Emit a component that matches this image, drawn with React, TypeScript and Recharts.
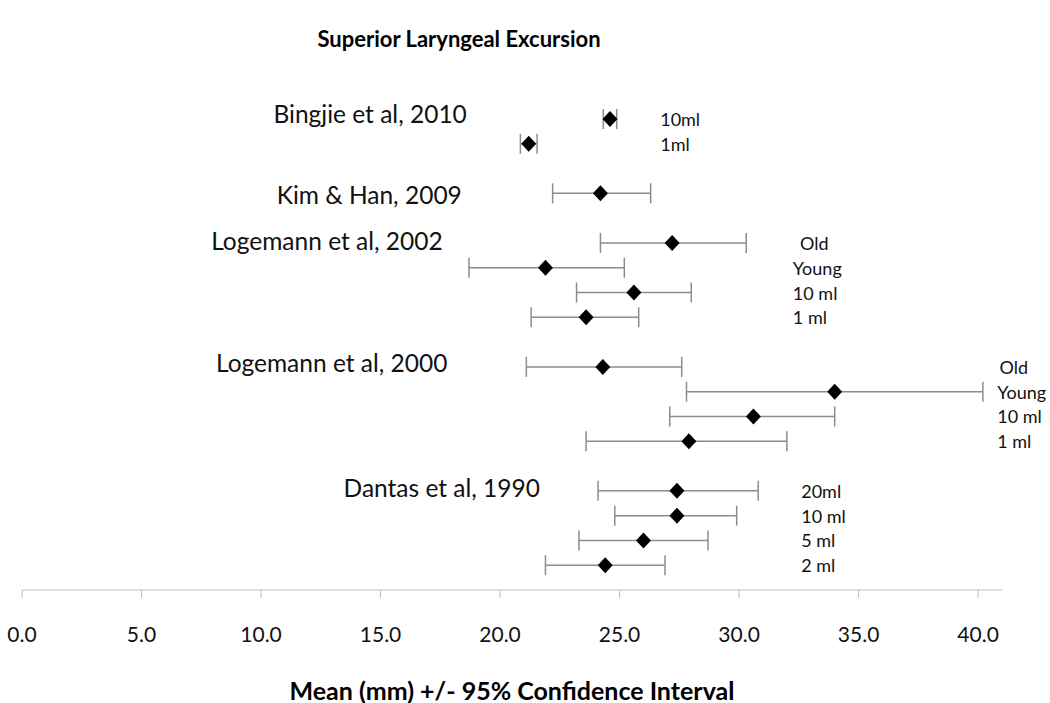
import React from 'react';
import { ComposedChart, Scatter, XAxis, YAxis, ErrorBar } from 'recharts';

// one entry per plotted estimate, top to bottom
const subLabels = ["10ml", "1ml", "", "Old", "Young", "10 ml", "1 ml", "Old", "Young", "10 ml", "1 ml", "20ml", "10 ml", "5 ml", "2 ml"];
const rowSlots = [1, 2, 4, 6, 7, 8, 9, 11, 12, 13, 14, 16, 17, 18, 19];
const means = [24.6, 21.2, 24.2, 27.2, 21.9, 25.6, 23.6, 24.3, 34.0, 30.6, 27.9, 27.4, 27.4, 26.0, 24.4];
const lowerCI = [24.32, 20.85, 22.2, 24.2, 18.7, 23.2, 21.3, 21.1, 27.8, 27.1, 23.6, 24.1, 24.8, 23.3, 21.9];
const upperCI = [24.88, 21.55, 26.3, 30.3, 25.2, 28.0, 25.8, 27.6, 40.2, 34.0, 32.0, 30.8, 29.9, 28.7, 26.9];

// study names and where they sit (x = where the name ends, in mm; y in row slots)
const studyNames = ["Bingjie et al, 2010", "Kim & Han, 2009", "Logemann et al, 2002", "Logemann et al, 2000", "Dantas et al, 1990"];
const studySlots = [0.76, 4.06, 5.9, 10.82, 15.88];
const studyNameEnds = [18.61, 18.4, 17.6, 17.8, 21.67];

// column (mm) for the small right-hand labels
const subLabelCols = [26.7, 26.7, 0, 32.55, 32.25, 32.25, 32.25, 40.9, 40.8, 40.8, 40.8, 32.6, 32.6, 32.6, 32.6];

const xTicks = [0, 5, 10, 15, 20, 25, 30, 35, 40];

const FONT = 'Lato, "Open Sans", sans-serif';

const points = means.map((m, i) => ({
  x: m,
  y: rowSlots[i],
  err: [m - lowerCI[i], upperCI[i] - m],
}));

const studyData = studyNames.map((name, i) => ({ x: studyNameEnds[i], y: studySlots[i], text: name }));

const subLabelData = subLabels
  .map((t, i) => ({ x: subLabelCols[i], y: rowSlots[i], text: t }))
  .filter((d) => d.text !== "");

const Diamond = (props: any) => {
  const { cx, cy } = props;
  if (cx == null || cy == null) return null;
  return <polygon points={`${cx},${cy - 8} ${cx + 7.5},${cy} ${cx},${cy + 8} ${cx - 7.5},${cy}`} fill="#000" />;
};

const StudyText = (props: any) => {
  const { cx, cy, payload } = props;
  return (
    <text x={cx} y={cy} textAnchor="end" dominantBaseline="central" fontFamily={FONT} fontSize={24.5} fill="#111">
      {payload.text}
    </text>
  );
};

const SubText = (props: any) => {
  const { cx, cy, payload } = props;
  return (
    <text x={cx} y={cy} textAnchor="start" dominantBaseline="central" fontFamily={FONT} fontSize={18} fill="#111">
      {payload.text}
    </text>
  );
};

const XTick = (props: any) => {
  const { x, y, payload } = props;
  return (
    <text x={x} y={y + 33} textAnchor="middle" dominantBaseline="central" fontFamily={FONT} fontSize={21} fill="#111">
      {Number(payload.value).toFixed(1)}
    </text>
  );
};

export default function App() {
  return (
    <div style={{ position: 'absolute', left: 0, top: 0, width: 1050, height: 703, background: '#fff' }}>
      <div
        style={{
          position: 'absolute', left: 259, top: 24, width: 400, textAlign: 'center',
          fontFamily: FONT, fontWeight: 700, fontSize: 22, color: '#000', lineHeight: '30px',
        }}
      >
        Superior Laryngeal Excursion
      </div>
      <ComposedChart width={1050} height={703} margin={{ top: 94.2, right: 48, bottom: 83, left: 22 }}>
        <XAxis
          type="number"
          dataKey="x"
          domain={[0, 41]}
          ticks={xTicks}
          height={30}
          stroke="#bdbdbd"
          tickLine={{ stroke: '#bdbdbd' }}
          tickSize={8}
          tickMargin={2}
          tick={<XTick />}
          interval={0}
        />
        <YAxis type="number" dataKey="y" domain={[0, 20]} reversed hide width={0} />
        <Scatter data={points} shape={<Diamond />} isAnimationActive={false}>
          <ErrorBar dataKey="err" direction="x" width={10} stroke="#8c8c8c" strokeWidth={1.5} />
        </Scatter>
        <Scatter data={studyData} shape={<StudyText />} isAnimationActive={false} />
        <Scatter data={subLabelData} shape={<SubText />} isAnimationActive={false} />
      </ComposedChart>
      <div
        style={{
          position: 'absolute', left: 212, top: 675, width: 600, textAlign: 'center',
          fontFamily: FONT, fontWeight: 700, fontSize: 25, color: '#000', lineHeight: '30px',
        }}
      >
        Mean (mm) +/- 95% Confidence Interval
      </div>
    </div>
  );
}
